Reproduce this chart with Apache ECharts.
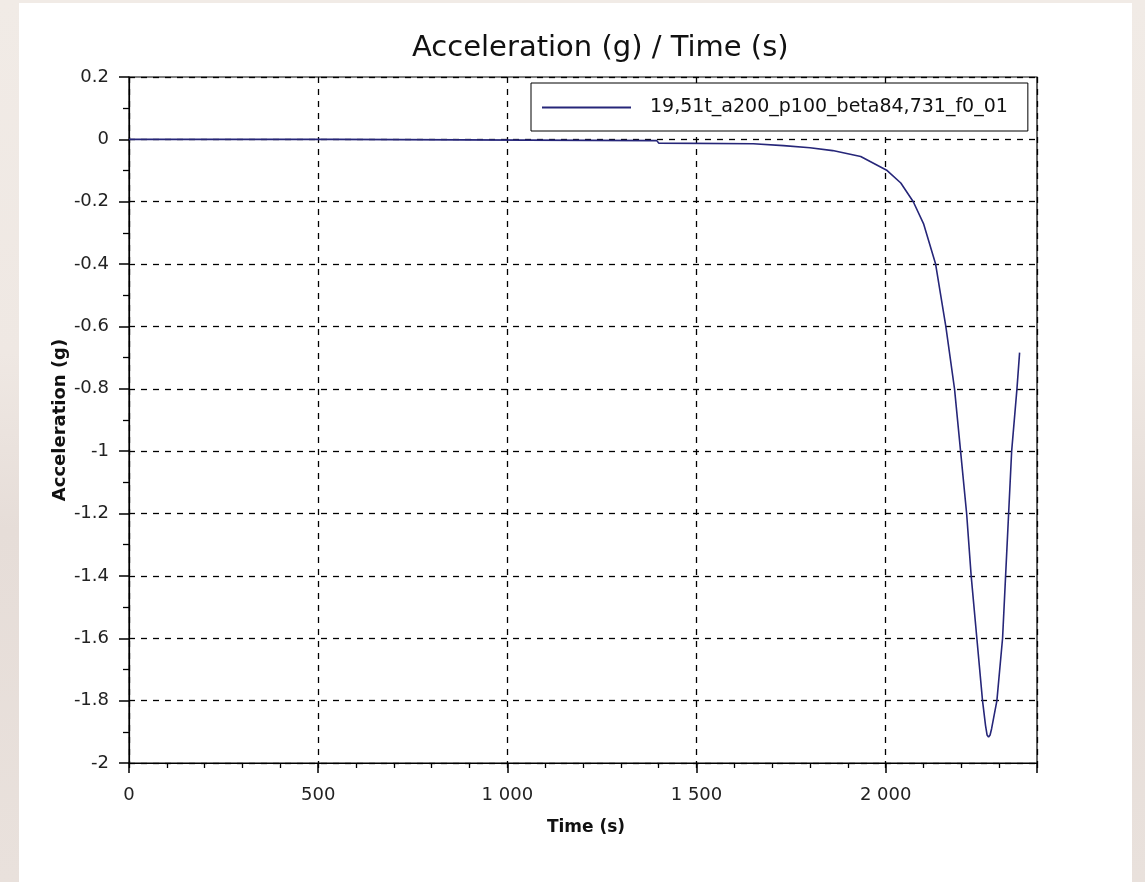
<!DOCTYPE html>
<html>
<head>
<meta charset="utf-8">
<script src="https://cdn.jsdelivr.net/npm/echarts@6/dist/echarts.min.js"></script>
<style>
  html, body { margin: 0; padding: 0; width: 1145px; height: 882px; overflow: hidden;
    background: linear-gradient(180deg, #f1ebe6 0%, #efe8e3 40%, #e6ddd8 60%, #e9e1dc 100%); }
  #chart { position: absolute; left: 19px; top: 3px; width: 1113px; height: 879px; background: #ffffff; }
</style>
</head>
<body>
<div id="chart"></div>
<script>
// ---- data ----
const seriesName = '19,51t_a200_p100_beta84,731_f0_01';
const timeS = [0, 540, 545, 1395, 1400, 1650, 1730, 1800, 1860, 1934, 2004, 2040, 2073, 2100, 2132, 2159, 2182, 2198, 2214, 2226, 2241, 2256, 2264, 2268, 2272, 2276, 2280, 2294, 2309, 2317, 2325, 2333, 2347, 2354];
const accelG = [0, 0, -0.004, -0.004, -0.012, -0.014, -0.02, -0.027, -0.036, -0.055, -0.100, -0.14, -0.200, -0.27, -0.40, -0.60, -0.80, -1.00, -1.20, -1.40, -1.60, -1.80, -1.88, -1.91, -1.917, -1.91, -1.89, -1.80, -1.60, -1.40, -1.20, -1.00, -0.80, -0.684];
const xTickValues = [0, 500, 1000, 1500, 2000];
const xTickLabels = ['0', '500', '1 000', '1 500', '2 000'];
const yTickLabels = ['-2', '-1.8', '-1.6', '-1.4', '-1.2', '-1', '-0.8', '-0.6', '-0.4', '-0.2', '0', '0.2'];
const titleText = 'Acceleration (g) / Time (s)';
const xName = 'Time (s)';
const yName = 'Acceleration (g)';

const FONT = 'DejaVu Sans';
const pts = timeS.map((t, i) => [t, accelG[i]]);

const chart = echarts.init(document.getElementById('chart'), null, { renderer: 'canvas' });
chart.setOption({
  animation: false,
  backgroundColor: '#ffffff',
  title: {
    text: titleText,
    left: 393,
    top: 31,
    padding: 0,
    textStyle: { fontFamily: FONT, fontSize: 29, fontWeight: 'normal', color: '#111' }
  },
  legend: {
    left: 512,
    top: 80,
    orient: 'horizontal',
    backgroundColor: '#fff',
    borderColor: '#000',
    borderWidth: 1,
    padding: [15, 20, 14, 11],
    icon: 'rect',
    itemWidth: 89,
    itemHeight: 2,
    textStyle: { fontFamily: FONT, fontSize: 19, color: '#111', padding: [0, 0, 0, 14] },
    data: [seriesName]
  },
  grid: {
    left: 110, top: 74, right: 95, bottom: 119,
    show: true, borderColor: '#000', borderWidth: 1.2, backgroundColor: '#fff'
  },
  xAxis: [
    {
      type: 'value', min: 0, max: 2400, interval: 500,
      name: xName, nameLocation: 'middle', nameGap: 56,
      nameTextStyle: { fontFamily: FONT, fontSize: 17, fontWeight: 'bold', color: '#111', padding: [0, 0, 0, 6] },
      axisLine: { show: true, onZero: false, lineStyle: { color: '#000', width: 1.2 } },
      axisTick: { show: true, length: 10, lineStyle: { color: '#000', width: 1.5 } },
      axisLabel: {
        margin: 23, fontFamily: FONT, fontSize: 18, color: '#222',
        formatter: v => { const i = xTickValues.indexOf(v); return i >= 0 ? xTickLabels[i] : ''; }
      },
      splitLine: { show: true, lineStyle: { color: '#000', width: 1.3, type: [6, 6] } }
    },
    {
      type: 'value', min: 0, max: 2400, interval: 100, position: 'bottom', offset: 0,
      axisLine: { show: false, onZero: false },
      axisTick: { show: true, length: 5, lineStyle: { color: '#000', width: 1.3 } },
      axisLabel: { show: false },
      splitLine: { show: false }
    }
  ],
  yAxis: {
    type: 'value', min: -2, max: 0.2, interval: 0.2,
    name: yName, nameLocation: 'middle', nameGap: 60, nameRotate: 90, nameMoveOverlap: false,
    nameTextStyle: { fontFamily: FONT, fontSize: 18, fontWeight: 'bold', color: '#111' },
    axisLine: { show: true, onZero: false, lineStyle: { color: '#000', width: 1.2 } },
    axisTick: { show: true, length: 10, lineStyle: { color: '#000', width: 1.5 } },
    minorTick: { show: true, splitNumber: 2, length: 6, lineStyle: { color: '#000', width: 1.3 } },
    axisLabel: {
      margin: 20, fontFamily: FONT, fontSize: 18, color: '#222',
      formatter: v => yTickLabels[Math.round((v + 2) / 0.2)] ?? ''
    },
    splitLine: { show: true, lineStyle: { color: '#000', width: 1.3, type: [6, 6] } }
  },
  series: [{
    name: seriesName,
    type: 'line',
    xAxisIndex: 0,
    data: pts,
    showSymbol: false,
    symbol: 'none',
    smooth: false,
    lineStyle: { color: '#262679', width: 1.6 },
    itemStyle: { color: '#262679' },
    z: 5
  }]
});
</script>
</body>
</html>
